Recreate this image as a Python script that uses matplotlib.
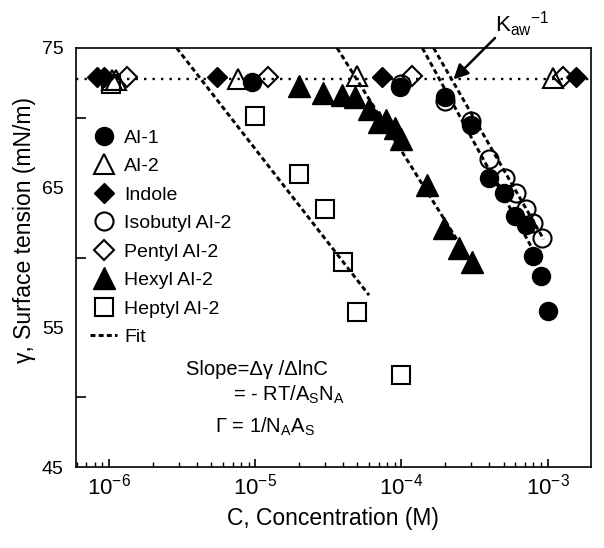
import matplotlib
matplotlib.use('Agg')
import matplotlib.pyplot as plt
from matplotlib.lines import Line2D

plt.rcParams['font.family'] = ['Liberation Sans', 'DejaVu Sans']
plt.rcParams['mathtext.fontset'] = 'custom'
plt.rcParams['mathtext.rm'] = 'Liberation Sans'
plt.rcParams['mathtext.it'] = 'Liberation Sans:italic'
plt.rcParams['mathtext.bf'] = 'Liberation Sans:bold'

# ---------------- data ----------------
ai1_c = [9.5e-6, 9.8e-5, 2.0e-4, 3.0e-4, 4.0e-4, 5.0e-4, 6.0e-4, 7.1e-4, 8.0e-4, 9.0e-4, 1.0e-3]
ai1_g = [72.6, 72.2, 71.5, 69.5, 65.7, 64.6, 63.0, 62.3, 60.1, 58.7, 56.2]

ai2_c = [1.05e-6, 1.12e-6, 7.6e-6, 5.0e-5, 1.08e-3]
ai2_g = [72.7, 72.7, 72.8, 73.0, 72.85]

indole_c = [8.3e-7, 9.3e-7, 5.5e-6, 7.4e-5, 1.56e-3]
indole_g = [72.9, 72.9, 72.9, 72.9, 72.9]

isobutyl_c = [9.9e-5, 2.0e-4, 3.0e-4, 4.0e-4, 5.07e-4, 6.1e-4, 7.1e-4, 8.0e-4, 9.2e-4]
isobutyl_g = [72.4, 71.2, 69.8, 67.05, 65.7, 64.6, 63.5, 62.45, 61.4]

pentyl_c = [1.33e-6, 1.23e-5, 1.19e-4, 1.27e-3]
pentyl_g = [72.9, 72.9, 73.0, 72.9]

hexyl_c = [2.0e-5, 2.9e-5, 3.9e-5, 4.8e-5, 6.0e-5, 7.0e-5, 7.9e-5, 9.1e-5, 1.0e-4,
           1.5e-4, 1.95e-4, 2.47e-4, 3.05e-4]
hexyl_g = [72.3, 71.75, 71.6, 71.5, 70.6, 69.7, 69.85, 69.3, 68.5, 65.2, 62.1, 60.7, 59.7]

heptyl_c = [1.03e-6, 1.0e-5, 2.0e-5, 3.0e-5, 4.0e-5, 5.0e-5, 1.0e-4]
heptyl_g = [72.4, 70.1, 66.0, 63.5, 59.7, 56.1, 51.6]

# fit lines (end points)
fit_heptyl_c = [2.9e-6, 6.0e-5]
fit_heptyl_g = [75.0, 57.3]
fit_hexyl_c = [3.63e-5, 2.9e-4]
fit_hexyl_g = [75.0, 59.9]
fit_ai1_c = [1.39e-4, 7.7e-4]
fit_ai1_g = [75.0, 60.8]
fit_iso_c = [1.66e-4, 9.4e-4]
fit_iso_g = [75.0, 61.3]

water_gamma = 72.8
kaw_c, kaw_g = 2.27e-4, 72.75

x_ticks = [1e-6, 1e-5, 1e-4, 1e-3]
x_ticklabels = [r'$10^{-6}$', r'$10^{-5}$', r'$10^{-4}$', r'$10^{-3}$']
y_ticks = [45, 55, 65, 75]
y_minor = [50, 60, 70]

# ---------------- figure ----------------
W, H = 604, 548
fig = plt.figure(figsize=(W / 100, H / 100), dpi=100)
ax = fig.add_axes([76 / W, (H - 467) / H, 515 / W, 419 / H])
ax.set_xscale('log')
ax.set_xlim(5.94e-7, 1.98e-3)
ax.set_ylim(45, 75)

for s in ax.spines.values():
    s.set_linewidth(1.2)

ax.axhline(water_gamma, color='k', lw=1.7, ls=(0, (1, 2.6)), zorder=1)

open_kw = dict(ls='none', mfc='none', mec='k', mew=1.5)
fill_kw = dict(ls='none', mfc='k', mec='k', mew=1.0)

h_iso, = ax.plot(isobutyl_c, isobutyl_g, 'o', ms=13, zorder=3, label='Isobutyl AI-2', **open_kw)
h_hep, = ax.plot(heptyl_c, heptyl_g, 's', ms=12.5, zorder=3, label='Heptyl AI-2', **open_kw)
h_ai2, = ax.plot(ai2_c, ai2_g, '^', ms=15, zorder=3, label='AI-2', **open_kw)
h_pen, = ax.plot(pentyl_c, pentyl_g, 'D', ms=10, zorder=3, label='Pentyl AI-2', **open_kw)
h_ind, = ax.plot(indole_c, indole_g, 'D', ms=10, zorder=4, label='Indole', **fill_kw)
h_hex, = ax.plot(hexyl_c, hexyl_g, '^', ms=16, zorder=4, label='Hexyl AI-2', **fill_kw)
h_ai1, = ax.plot(ai1_c, ai1_g, 'o', ms=13, zorder=4, label='AI-1', **fill_kw)

fit_kw = dict(color='k', lw=2.1, ls=(0, (1.7, 1.1)), zorder=5)
for fc, fg in [(fit_heptyl_c, fit_heptyl_g), (fit_hexyl_c, fit_hexyl_g),
               (fit_ai1_c, fit_ai1_g), (fit_iso_c, fit_iso_g)]:
    ax.plot(fc, fg, **fit_kw)
h_fit = Line2D([], [], label='Fit', **fit_kw)

ax.set_xticks(x_ticks)
ax.set_xticklabels(x_ticklabels)
minor = [k * 10.0 ** e for e in range(-7, -2) for k in range(2, 10)]
minor = [m for m in minor if 5.94e-7 < m < 1.98e-3]
ax.set_xticks(minor, minor=True)
ax.set_xticklabels([], minor=True)
ax.tick_params(axis='x', which='major', direction='in', length=6, width=1.2,
               labelsize=16, pad=5)
ax.tick_params(axis='x', which='minor', direction='in', length=3.5, width=1.0)

ax.set_yticks(y_ticks)
ax.set_yticks(y_minor, minor=True)
ax.tick_params(axis='y', which='major', length=0, labelsize=14, pad=9)
ax.tick_params(axis='y', which='minor', direction='in', length=7, width=1.2)

ax.legend(handles=[h_ai1, h_ai2, h_ind, h_iso, h_pen, h_hex, h_hep, h_fit],
          loc='upper left', bbox_to_anchor=(14 / 515, (467 - 129) / 419),
          frameon=False, fontsize=14, handlelength=1.4, handletextpad=0.35,
          labelspacing=0.56, borderpad=0, borderaxespad=0, numpoints=1)

# K_aw^-1 arrow
ax.annotate('', xy=(kaw_c, kaw_g), xycoords='data',
            xytext=(495, H - 38), textcoords='figure pixels',
            arrowprops=dict(arrowstyle='-|>', color='k', lw=1.8,
                            mutation_scale=22, shrinkA=0, shrinkB=0), zorder=6)
fig.text(495 / W, 1 - 32 / H, r'K$_\mathregular{aw}$$^\mathregular{-1}$',
         fontsize=16, ha='left', va='baseline')

fig.text(328 / W, 1 - 375 / H, 'Slope=Δγ /ΔlnC', ha='right', va='baseline', fontsize=14.5)
fig.text(233 / W, 1 - 401 / H, r'= - RT/A$_\mathregular{S}$N$_\mathregular{A}$',
         ha='left', va='baseline', fontsize=14.5)
fig.text(215 / W, 1 - 433 / H, r'Γ = 1/N$_\mathregular{A}$A$_\mathregular{S}$',
         ha='left', va='baseline', fontsize=14.5)

fig.text(333 / W, 1 - 519 / H, 'C, Concentration (M)', ha='center', va='center', fontsize=16.5)
fig.text(25 / W, 1 - 230 / H, 'γ, Surface tension (mN/m)', rotation=90,
         ha='center', va='center', fontsize=16.5)

fig.savefig('out.png', dpi=100)
